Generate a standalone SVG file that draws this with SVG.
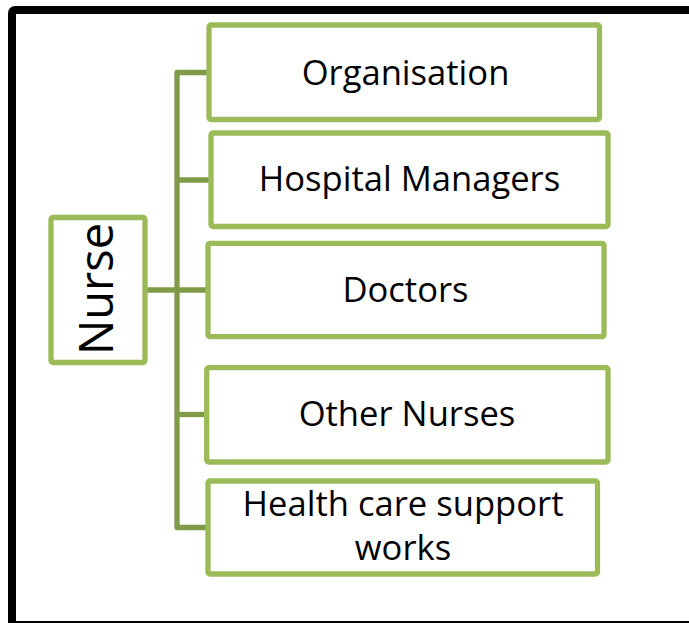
<svg xmlns="http://www.w3.org/2000/svg" width="689" height="623" viewBox="0 0 689 623">
  <style>
    .frame { fill: #ffffff; stroke: #000000; stroke-width: 8; }
    .box { fill: #ffffff; stroke: #9bbb59; stroke-width: 5.3; }
    .link { fill: none; stroke: #809b48; stroke-width: 5.3; stroke-linejoin: round; }
    .label { font-family: "Open Sans", "Noto Sans", "Liberation Sans", sans-serif; font-size: 34.6px; fill: #000000; text-anchor: middle; }
  </style>

  <!-- outer frame -->
  <rect class="frame" x="12" y="10" width="700" height="615" rx="3"/>

  <!-- connectors -->
  <g id="connectors">
    <path class="link" d="M209 72.5 H177 V527.5 H208"/>
    <path class="link" d="M177 180 H211"/>
    <path class="link" d="M145 290 H208"/>
    <path class="link" d="M177 414.5 H207"/>
  </g>

  <!-- root -->
  <g id="nurse">
    <rect class="box" x="51" y="217.5" width="94" height="145" rx="2"/>
    <text class="label" transform="translate(113 289) rotate(-90)" x="0" y="0" style="font-size:47px">Nurse</text>
  </g>

  <!-- children -->
  <g id="organisation">
    <rect class="box" x="209" y="25" width="390.5" height="94.5" rx="2"/>
    <text class="label" x="405.5" y="84.5">Organisation</text>
  </g>

  <g id="hospital-managers">
    <rect class="box" x="211" y="133" width="397" height="93.5" rx="2"/>
    <text class="label" x="409.5" y="190.5">Hospital Managers</text>
  </g>

  <g id="doctors">
    <rect class="box" x="208" y="243.3" width="396" height="93.4" rx="2"/>
    <text class="label" x="405.5" y="301.5">Doctors</text>
  </g>

  <g id="other-nurses">
    <rect class="box" x="206.7" y="367.7" width="401.3" height="94.3" rx="2"/>
    <text class="label" x="407" y="425.5">Other Nurses</text>
  </g>

  <g id="support-workers">
    <rect class="box" x="208" y="481" width="389.5" height="93" rx="2"/>
    <text class="label" x="403" y="516">Health care support</text>
    <text class="label" x="403" y="560">works</text>
  </g>
</svg>
